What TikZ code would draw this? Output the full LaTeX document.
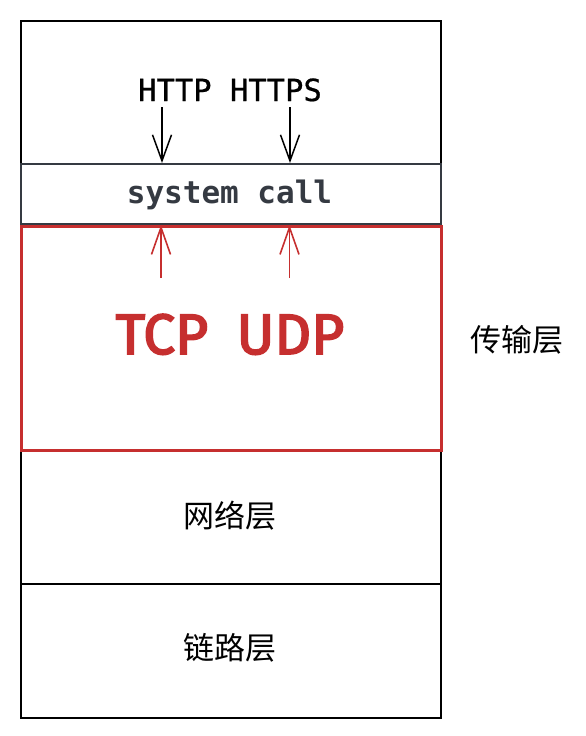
\documentclass[tikz,border=0pt]{standalone}
\usepackage{fontspec}
\setmainfont{Fira Sans}
\setmonofont{DejaVu Sans Mono}
\newfontfamily\cjk{Noto Sans CJK SC}
\newfontfamily\tcpfont[FakeBold=3]{Fira Sans}
\newfontfamily\httpfont[FakeBold=0.6]{DejaVu Sans Mono}
\usetikzlibrary{arrows.meta}
\definecolor{redc}{HTML}{C62F2F}
\definecolor{sysgray}{HTML}{353A42}
\tikzset{
  layerbox/.style={draw=black, line width=2pt, minimum width=420pt, inner sep=0pt},
  monotext/.style={inner sep=0pt, anchor=base},
  cjktext/.style={font=\cjk\fontsize{31}{31}\selectfont, inner sep=0pt},
  downarrow/.style={-{Straight Barb[length=26pt,width=19pt]}, line width=1.5pt, black},
  uparrow/.style={-{Straight Barb[length=27pt,width=19pt]}, line width=1.6pt, redc},
}
\begin{document}
\begin{tikzpicture}[x=1pt,y=-1pt]
\useasboundingbox (0,0) rectangle (586,736);
% layers
\node[layerbox, minimum height=143pt, anchor=north west] (app) at (20,20) {};
\node[layerbox, draw=sysgray, minimum height=60pt, anchor=north west] (sys) at (20,163) {};
\node[layerbox, minimum height=133pt, anchor=north west] (net) at (20,450) {};
\node[layerbox, minimum height=134pt, anchor=north west] (link) at (20,583) {};
\node[layerbox, draw=redc, line width=3.3pt, minimum height=224pt, anchor=north west] (trans) at (20,225) {};
% texts
\node[monotext, font=\httpfont\fontsize{30.5}{30}\selectfont] (http) at (230,101) {HTTP HTTPS};
\node[monotext, text=sysgray, font=\ttfamily\bfseries\fontsize{31}{31}\selectfont] (syscall) at (229.5,203) {system call};
\node[inner sep=0pt, anchor=base, text=redc, font=\tcpfont\fontsize{57}{57}\selectfont] (tcpudp) at (230,354) {TCP\hspace{0.5em}UDP};
\node[cjktext] (translabel) at (517,340) {传输层};
\node[cjktext] (netlabel) at (230,516) {网络层};
\node[cjktext] (linklabel) at (230,648) {链路层};
% arrows
\coordinate (h1) at (162,107);
\coordinate (h2) at (290,107);
\coordinate (u1) at (161,278);
\coordinate (u2) at (289.5,278);
\draw[downarrow] (h1) -- (h1 |- sys.north);
\draw[downarrow] (h2) -- (h2 |- sys.north);
\draw[uparrow] (u1) -- (u1 |- trans.north);
\draw[uparrow] (u2) -- (u2 |- trans.north);
\end{tikzpicture}
\end{document}
